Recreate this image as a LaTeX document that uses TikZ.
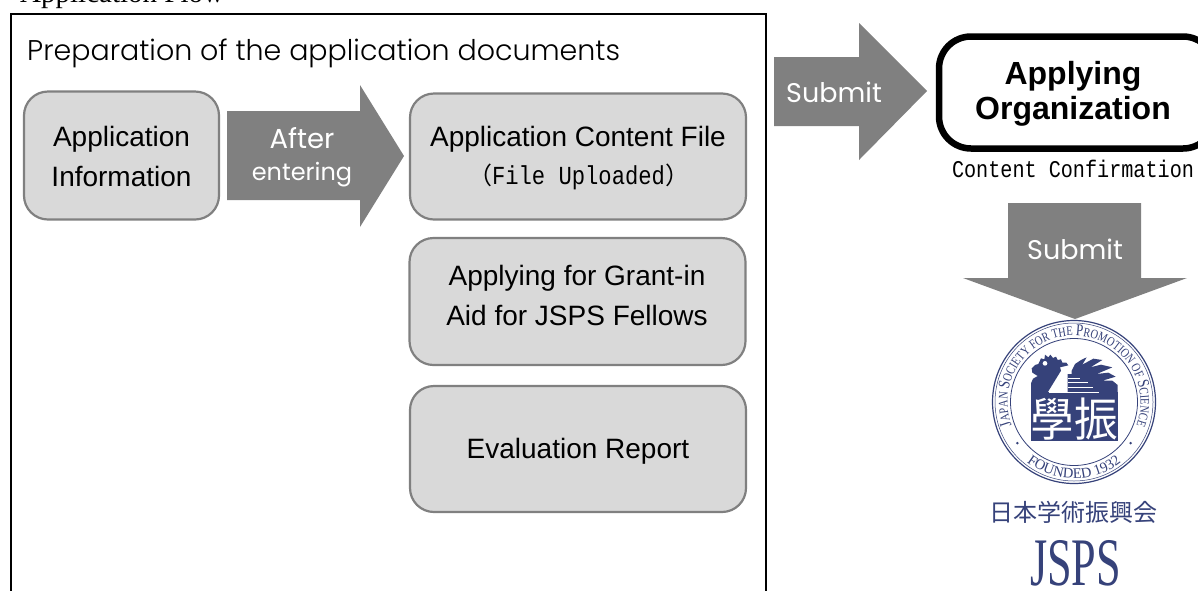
\documentclass[tikz,border=0pt]{standalone}
\usepackage{fontspec}
\usepackage{graphicx}
\usetikzlibrary{decorations.text}
\setmainfont{Liberation Sans}
\newfontfamily\serifA{Liberation Serif}
\newfontfamily\serifN[FakeStretch=0.8]{Liberation Serif}
\newfontfamily\monoA{Liberation Mono}
\newfontfamily\cjkA{Noto Sans CJK JP}
\newfontfamily\lightA[UprightFont=* Light]{Poppins}
\newfontfamily\popA{Poppins}
\definecolor{jblue}{HTML}{36427A}
\definecolor{agray}{HTML}{808080}
\definecolor{bgray}{HTML}{D9D9D9}
\newcommand{\lgf}{\serifN\fontsize{16.5}{16.5}\selectfont\color{jblue}}
\newcommand{\smf}{\serifN\fontsize{13}{13}\selectfont\color{jblue}}
\newcommand{\botf}{\serifA\fontsize{14.5}{14.5}\selectfont\color{jblue}}
\newcommand{\tallmono}[1]{\scalebox{.84}[1]{\monoA\fontsize{24}{24}\selectfont #1}}
\tikzset{
 x=1pt,y=-1pt,
 docbox/.style={draw=agray,line width=2.2pt,fill=bgray,rounded corners=24pt},
 doctext/.style={font=\fontsize{28}{40}\selectfont,align=center,text=black,inner sep=0},
 arrowshape/.style={fill=agray,draw=none},
 arrowtext/.style={font=\popA\fontsize{27}{32}\selectfont,text=white,align=center},
 seal/.style={shift={(1025,350)},x=.3333pt,y=-.3333pt},
}
\begin{document}
\begin{tikzpicture}
\useasboundingbox (0,0) rectangle (1198,590);
\fill[white] (0,0) rectangle (1198,590);
\begin{scope}
\clip (0,0) rectangle (1198,590);
\node[anchor=base west,font=\serifA\fontsize{29}{29}\selectfont,inner sep=0] (flow) at (20,2) {Application Flow};
\draw[line width=2.6pt,fill=white] (11,14) -- (766,14) -- (766,600) -- (11,600) -- cycle;
\end{scope}
\node[anchor=base west,inner sep=0,font=\lightA\fontsize{28.5}{32}\selectfont] (title) at (27,60) {Preparation of the application documents};
% boxes
\node[docbox,minimum width=195pt,minimum height=128pt] (info) at (121.5,155.5) {};
\node[doctext] (infot) at (121.5,156) {Application\\Information};
\node[docbox,minimum width=336pt,minimum height=126pt] (content) at (578,156.5) {};
\node[doctext] (contentA) at (578,139.5) {Application Content File};
\node[anchor=center,inner sep=0] (contentB) at (578.5,177) {{\cjkA\fontsize{24}{24}\selectfont （}\scalebox{.853}[1]{\monoA\fontsize{26}{26}\selectfont File Uploaded}{\cjkA\fontsize{24}{24}\selectfont ）}};
\node[docbox,minimum width=336pt,minimum height=127pt] (grant) at (577.5,301.5) {};
\node[doctext] (grantt) at (577,295) {Applying for Grant-in\\Aid for JSPS Fellows};
\node[docbox,minimum width=336pt,minimum height=126pt] (report) at (578,449) {};
\node[doctext] (reportt) at (578,451) {Evaluation Report};
% arrows
\fill[arrowshape] (227,111) -- (360,111) -- (360,85) -- (404,156) -- (360,227) -- (360,200) -- (227,200) -- cycle;
\node[arrowtext] (after) at (302,157) {{\fontsize{27.5}{32}\selectfont After}\\{\fontsize{24}{32}\selectfont entering}};
\fill[arrowshape] (774,57) -- (859,57) -- (859,23) -- (927,91) -- (859,160) -- (859,126) -- (774,126) -- cycle;
\node[arrowtext] (sub1) at (834,92) {Submit};
\fill[arrowshape] (1008,203) -- (1141,203) -- (1141,278) -- (1187,278) -- (1075,319) -- (963,278) -- (1008,278) -- cycle;
\node[arrowtext] (sub2) at (1075,249) {Submit};
% organisation
\node[draw=black,line width=6.5pt,rounded corners=32pt,minimum width=276pt,minimum height=112pt,fill=white] (org) at (1077,92.5) {};
\node[align=center,font=\bfseries\fontsize{32}{35}\selectfont] (orgt) at (1073,94) {Applying\\Organization};
\node[inner sep=0] (conf) at (1073,169) {\tallmono{Content Confirmation}};
% logo
\coordinate (lc) at (1074,402);
\draw[jblue,line width=1.2pt] (lc) circle (81.5pt);
\draw[jblue,line width=.5pt] (lc) circle (79pt);
\draw[jblue,line width=.8pt] (lc) circle (63.5pt);
\path[decorate,decoration={text along path,text align=center,text={|\lgf|J|\smf|APAN |\lgf|S|\smf|OCIETY FOR THE |\lgf|P|\smf|ROMOTION OF |\lgf|S|\smf|CIENCE}}]
 (lc) ++(218:66.5pt) arc[start angle=218,end angle=-38,radius=66.5pt];
\path[decorate,decoration={text along path,text align=center,text={|\botf|FOUNDED 1932}}]
 (lc) ++(222:76.5pt) arc[start angle=222,end angle=318,radius=76.5pt];
\fill[jblue] (lc) ++(216:70pt) circle (1.4pt);
\fill[jblue] (lc) ++(324:70pt) circle (1.4pt);
% seal
\begin{scope}[seal]
\fill[jblue] (18,272) -- (278,272) -- (278,125) -- (18,125) -- cycle;
\fill[jblue] (18,127) -- (18,100) -- (24,86) -- (38,78) -- (22,68) -- (20,55) -- (30,45) -- (40,42) -- (48,25) -- (58,28) -- (60,14) -- (70,22) -- (76,14) -- (84,24) -- (93,20) -- (98,30) -- (108,28) -- (112,38) -- (124,38) -- (130,46) -- (105,52) -- (108,62) -- (68,127) -- cycle;
\fill[white] (60,40) circle[radius=7];
\fill[jblue] (128,127) -- (128,72) -- (140,72) -- (140,62) -- (150,42) -- (168,30) -- (185,22) -- (172,44) -- (205,26) -- (232,30) -- (196,52) -- (228,44) -- (262,52) -- (215,72) -- (250,68) -- (272,80) -- (232,92) -- (262,92) -- (278,105) -- (278,127) -- cycle;
\draw[white,line width=1pt] (128,84) -- (165,84) (128,98) -- (190,98) (128,112) -- (205,112) (72,127) -- (222,127);
\end{scope}
\node[inner sep=0,text=white] (kanji) at (1074.5,419) {\scalebox{.95}[1]{\cjkA\fontsize{46}{46}\selectfont 學振}};
\node[inner sep=0,text=jblue,font=\cjkA\fontsize{24}{24}\selectfont] (jname) at (1073,512) {日本学術振興会};
\node[inner sep=0,anchor=base,text=jblue] (jsps) at (1075.5,585) {\scalebox{.65}[1]{\serifA\fontsize{68}{68}\selectfont JSPS}};
\end{tikzpicture}
\end{document}
